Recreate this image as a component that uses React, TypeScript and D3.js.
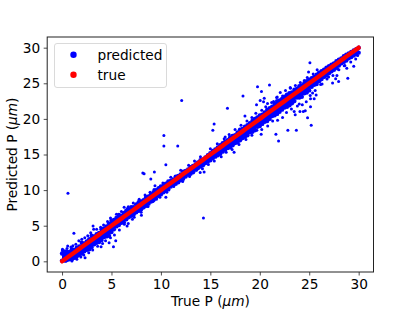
import React, { useEffect, useRef } from 'react';
import * as d3 from 'd3';

const tickValues = [0, 5, 10, 15, 20, 25, 30];

// true value at each sampled position along the diagonal
const trueP = [
  0, 0.25, 0.5, 0.75, 1, 1.25, 1.5, 1.75, 2, 2.25, 2.5, 2.75, 3, 3.25, 3.5, 3.75, 4, 4.25, 4.5, 4.75,
  5, 5.25, 5.5, 5.75, 6, 6.25, 6.5, 6.75, 7, 7.25, 7.5, 7.75, 8, 8.25, 8.5, 8.75, 9, 9.25, 9.5, 9.75,
  10, 10.25, 10.5, 10.75, 11, 11.25, 11.5, 11.75, 12, 12.25, 12.5, 12.75, 13, 13.25, 13.5, 13.75, 14, 14.25, 14.5, 14.75,
  15, 15.25, 15.5, 15.75, 16, 16.25, 16.5, 16.75, 17, 17.25, 17.5, 17.75, 18, 18.25, 18.5, 18.75, 19, 19.25, 19.5, 19.75,
  20, 20.25, 20.5, 20.75, 21, 21.25, 21.5, 21.75, 22, 22.25, 22.5, 22.75, 23, 23.25, 23.5, 23.75, 24, 24.25, 24.5, 24.75,
  25, 25.25, 25.5, 25.75, 26, 26.25, 26.5, 26.75, 27, 27.25, 27.5, 27.75, 28, 28.25, 28.5, 28.75, 29, 29.25, 29.5, 29.75, 30,
];

// top edge of the predicted cloud at each trueP
const predictedUpper = [
  1.1, 1.2, 1.3, 1.3, 1.7, 1.6, 1.9, 2.1, 2.6, 2.5, 2.8, 3.1, 3.6, 3.5, 3.8, 4.0, 4.5, 4.6, 4.9, 5.3,
  5.7, 5.8, 6.1, 6.5, 6.4, 6.8, 7.1, 7.2, 7.6, 7.6, 8.0, 8.3, 8.4, 8.6, 9.0, 9.1, 9.4, 9.7, 10.0, 10.2,
  10.5, 10.6, 10.9, 11.2, 11.3, 11.5, 11.9, 12.0, 12.2, 12.6, 12.7, 12.9, 13.2, 13.4, 13.6, 13.9, 14.2, 14.3, 14.6, 14.9,
  15.2, 15.5, 15.7, 16.0, 16.3, 16.6, 16.8, 17.0, 17.4, 17.6, 17.7, 18.1, 18.5, 18.6, 18.9, 19.1, 19.4, 19.7, 20.0, 20.2,
  20.5, 20.6, 20.9, 21.3, 21.5, 21.7, 22.1, 22.5, 22.6, 22.8, 23.1, 23.4, 23.6, 23.7, 24.1, 24.2, 24.6, 24.7, 25.0, 25.3,
  25.5, 25.7, 25.9, 26.2, 26.5, 26.7, 26.9, 27.2, 27.4, 27.6, 27.8, 28.1, 28.3, 28.5, 28.8, 29.0, 29.2, 29.4, 29.6, 29.8, 30.0,
];

// bottom edge of the predicted cloud at each trueP
const predictedLower = [
  0.1, 0.1, 0.2, 0.3, 0.3, 0.5, 0.7, 0.9, 1.1, 1.4, 1.6, 1.7, 2.0, 2.4, 2.6, 2.7, 3.0, 3.4, 3.5, 3.6,
  4.1, 4.5, 4.9, 5.1, 5.4, 5.5, 5.9, 6.2, 6.4, 6.6, 6.9, 7.1, 7.3, 7.6, 7.8, 8.1, 8.4, 8.6, 8.8, 9.2,
  9.4, 9.7, 9.9, 10.1, 10.5, 10.7, 10.9, 11.1, 11.4, 11.6, 11.9, 12.2, 12.3, 12.5, 12.9, 13.1, 13.3, 13.5, 13.8, 14.0,
  14.2, 14.5, 14.7, 14.9, 15.1, 15.4, 15.7, 15.9, 16.0, 16.3, 16.6, 16.7, 17.0, 17.3, 17.5, 17.7, 18.1, 18.2, 18.4, 18.9,
  19.0, 19.3, 19.6, 19.7, 20.0, 20.4, 20.5, 20.7, 21.0, 21.3, 21.6, 21.7, 21.9, 22.2, 22.5, 23.0, 23.0, 23.1, 23.6, 23.7,
  24.0, 24.5, 24.8, 24.9, 25.3, 25.6, 25.9, 26.1, 26.4, 26.7, 26.9, 27.2, 27.5, 27.8, 28.0, 28.2, 28.5, 28.7, 28.9, 29.1, 29.3,
];

// points just outside the band edges, they give it the rough outline
const fringeTrue = [
  0.1, 0.05, 0.3, 0.5, 0.9, 1.1, 1.4, 1.7, 2.0, 2.3, 2.6, 2.9, 3.2, 3.5, 3.9, 4.2, 4.6, 4.9,
  0.4, 1.0, 1.5, 1.9, 2.2, 2.7, 3.1, 3.6, 4.1, 4.4, 4.9, 5.3, 5.8, 6.3, 6.7,
  5.5, 6.0, 6.6, 7.2, 7.8, 8.4, 8.9, 9.3, 10.2, 11.0, 12.0, 12.8, 13.4, 14.0, 15.0, 15.7, 16.4, 16.9,
  17.5, 18.1, 18.7, 19.2, 19.6, 20.2, 20.6, 21.2, 21.7, 22.3, 22.6, 23.1, 23.6, 24.1, 24.8, 25.4,
  7.3, 8.0, 8.7, 9.2, 9.9, 10.6, 11.3, 12.2, 12.9, 13.6, 14.2, 14.8, 15.4, 16.1, 16.6, 17.2, 17.9, 18.6,
  19.2, 19.7, 20.2, 20.8, 21.3, 21.8, 22.3, 22.7, 23.2, 23.8, 24.3, 24.7, 25.1, 25.6, 26.3, 26.8, 27.4,
  28.0, 28.6, 29.2, 29.7, 29.9, 29.8,
];
const fringePredicted = [
  1.4, 1.7, 1.5, 1.8, 2.0, 2.2, 2.4, 2.9, 3.1, 3.3, 3.6, 4.0, 4.5, 4.5, 4.8, 5.1, 5.6, 6.1,
  0, 0.05, 0.3, 0.6, 0.9, 1.2, 1.6, 2.1, 2.5, 2.9, 3.3, 3.7, 4.4, 5.2, 5.3,
  6.6, 7.0, 7.4, 8.2, 8.7, 9.3, 9.7, 10.1, 11.0, 11.8, 12.8, 13.5, 14.1, 14.7, 15.8, 16.5, 17.2, 17.8,
  18.5, 19.1, 19.7, 20.2, 20.8, 21.2, 21.7, 22.3, 23.0, 23.2, 24.0, 24.3, 24.7, 25.1, 25.8, 26.3,
  6.2, 6.9, 7.7, 8.4, 9.0, 9.7, 10.5, 11.2, 11.9, 12.8, 13.0, 13.6, 14.1, 14.7, 15.3, 15.7, 16.4, 17.1,
  17.7, 18.4, 18.5, 19.0, 19.7, 19.8, 20.2, 20.9, 21.4, 21.8, 22.0, 22.4, 23.3, 24.0, 24.9, 25.6, 26.1,
  26.9, 27.5, 28.0, 28.4, 28.9, 29.0,
];

// points that sit away from the band
const outlierTrue = [
  10.3, 10.3, 11.7, 12.1, 0.6, 1.2, 2.33, 3.95, 5.2, 5.43, 4.76, 3.14, 0.03, 0.57,
  10.5, 8.17, 8.3, 9.34, 8.98, 9.75, 9.4, 10.5, 6.28, 6.7, 8.03, 7.12, 6.58, 14.3, 13.97, 14.37,
  25.07, 24.93, 25.8, 24.5, 20.98, 19.77, 20.17, 18.3, 20.45, 20.04, 20.38, 20.78, 19.67, 16.73, 18.5,
  15.38, 15.25, 20.14, 21.63, 22.84, 23.7, 21.9, 25.2, 24.83, 17.4, 16.5, 25.13, 24.6, 24.06, 24.4,
  23.48, 23.58, 23.99, 28.9, 29.5, 28.8, 27.87, 28.54, 26.96, 27.8, 27.67, 27.97, 27.36, 26.15, 25.78,
  25.7, 25.5, 25.13, 25.34, 23.08, 22.07, 21.76, 21.39,
];
const outlierPredicted = [
  17.66, 16.2, 16.2, 22.6, 9.55, 3.95, 0.5, 2.05, 2.05, 2.9, 2.6, 4.97, 1.6, 2.15,
  13.55, 12.4, 12.3, 12.56, 11.57, 10.35, 10.6, 9.0, 7.6, 7.68, 6.47, 5.9, 4.96, 6.1, 12.46, 12.56,
  27.9, 26.6, 26.9, 25.4, 24.75, 24.5, 23.85, 23.2, 22.9, 22.6, 22.4, 22.17, 22.0, 21.5, 20.4,
  19.27, 18.4, 17.86, 17.86, 18.4, 18.4, 16.9, 19.1, 20.15, 15.33, 17.44, 21.7, 21.14, 21.04, 21.04,
  21.04, 20.58, 22.1, 25.7, 27.4, 27.1, 27.0, 27.47, 25.9, 26.1, 25.64, 25.26, 25.03, 24.84, 25.03,
  23.35, 22.83, 22.83, 23.63, 24.42, 23.7, 23.07, 22.45,
];

const width = 415;
const height = 311;
const font = '"DejaVu Sans", sans-serif';
const fontSize = 13.7;

export default function App() {
  const ref = useRef<SVGSVGElement | null>(null);

  useEffect(() => {
    const svg = d3.select(ref.current);
    svg.selectAll('*').remove();

    const x = d3.scaleLinear().domain([-1.5, 31.5]).range([47.2, 373.5]);
    const y = d3.scaleLinear().domain([-1.5, 31.5]).range([272, 37]);

    const dots = (xs: number[], ys: number[], r: number, fill: string) =>
      svg
        .append('g')
        .selectAll('circle')
        .data(xs)
        .enter()
        .append('circle')
        .attr('cx', (d) => x(d))
        .attr('cy', (_, i) => y(ys[i]))
        .attr('r', r)
        .attr('fill', fill);

    dots(trueP, predictedUpper, 2.2, '#0000ff');
    dots(trueP, predictedLower, 2.2, '#0000ff');
    // fill between the two edges so the band stays solid
    svg
      .append('path')
      .attr(
        'd',
        d3
          .area<number>()
          .x((d) => x(d))
          .y0((_, i) => y(predictedLower[i]))
          .y1((_, i) => y(predictedUpper[i]))(trueP)
      )
      .attr('fill', '#0000ff');
    dots(fringeTrue, fringePredicted, 1.5, '#0000ff');
    dots(outlierTrue, outlierPredicted, 1.5, '#0000ff');

    // the true points overlap into a solid stroke
    svg
      .append('path')
      .attr(
        'd',
        d3
          .line<number>()
          .x((d) => x(d))
          .y((d) => y(d))(trueP)
      )
      .attr('fill', 'none')
      .attr('stroke', '#ff0000')
      .attr('stroke-width', 4.4)
      .attr('stroke-linecap', 'round');

    // axes
    const xAxis = d3.axisBottom(x).tickValues(tickValues).tickSize(3.5).tickPadding(3.5);
    const yAxis = d3.axisLeft(y).tickValues(tickValues).tickSize(3.5).tickPadding(3.5);
    const gx = svg.append('g').attr('transform', `translate(0,${y.range()[0]})`).call(xAxis);
    const gy = svg.append('g').attr('transform', `translate(${x.range()[0]},0)`).call(yAxis);
    [gx, gy].forEach((g) => {
      g.select('.domain').remove();
      g.selectAll('text').attr('font-family', font).attr('font-size', fontSize).attr('fill', '#000');
      g.selectAll('line').attr('stroke', '#222').attr('stroke-width', 0.8);
    });

    // frame
    svg
      .append('rect')
      .attr('x', x.range()[0])
      .attr('y', y.range()[1])
      .attr('width', x.range()[1] - x.range()[0])
      .attr('height', y.range()[0] - y.range()[1])
      .attr('fill', 'none')
      .attr('stroke', '#222')
      .attr('stroke-width', 1);

    // legend
    const legend = svg.append('g');
    legend
      .append('rect')
      .attr('x', 54.5)
      .attr('y', 43.5)
      .attr('width', 112)
      .attr('height', 44)
      .attr('rx', 2.5)
      .attr('fill', '#fff')
      .attr('fill-opacity', 0.8)
      .attr('stroke', '#d0d0d0')
      .attr('stroke-width', 0.8);
    const legendItems = [
      { label: 'predicted', color: '#0000ff', cy: 54.7 },
      { label: 'true', color: '#ff0000', cy: 74.7 },
    ];
    legendItems.forEach((d) => {
      legend.append('circle').attr('cx', 73.5).attr('cy', d.cy).attr('r', 3.2).attr('fill', d.color);
      legend
        .append('text')
        .attr('x', 97.5)
        .attr('y', d.cy + 5)
        .attr('font-family', font)
        .attr('font-size', fontSize)
        .text(d.label);
    });

    // axis titles
    const title = (sel: d3.Selection<SVGTextElement, unknown, null, undefined>, name: string) => {
      sel.attr('font-family', font).attr('font-size', fontSize).attr('text-anchor', 'middle');
      sel.append('tspan').text(`${name} (`);
      sel.append('tspan').attr('font-style', 'italic').text('\u03bcm');
      sel.append('tspan').text(')');
    };
    svg
      .append('text')
      .attr('x', 210.5)
      .attr('y', 305.5)
      .call(title, 'True P');
    svg
      .append('text')
      .attr('transform', 'translate(17,154.5) rotate(-90)')
      .call(title, 'Predicted P');
  }, []);

  return <svg ref={ref} width={width} height={height} style={{ position: 'absolute', left: 0, top: 0 }} />;
}
